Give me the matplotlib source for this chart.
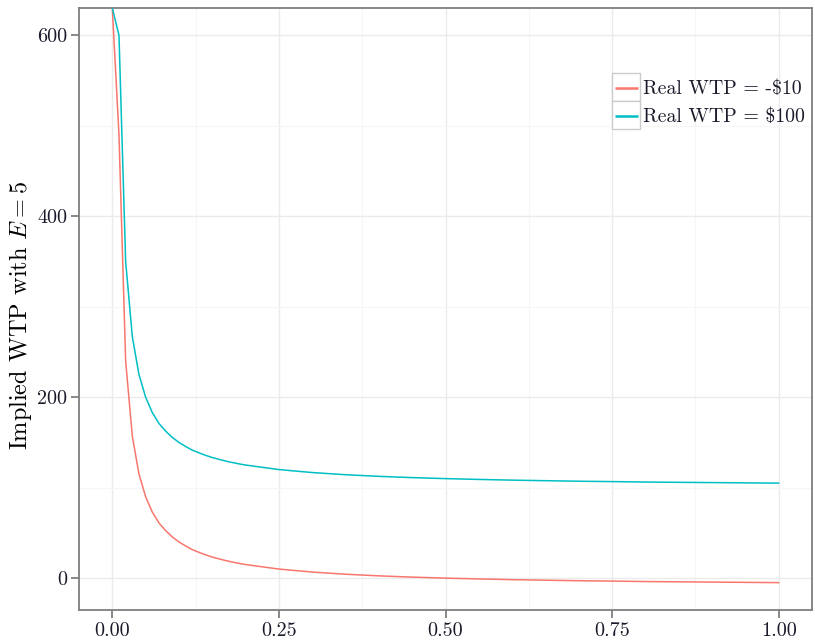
import matplotlib
matplotlib.use('Agg')
from matplotlib import pyplot as plt
from matplotlib.patches import Rectangle
from matplotlib.ticker import FixedLocator

plt.rcParams.update({
    'font.family': 'cmr10',
    'mathtext.fontset': 'cm',
    'axes.formatter.use_mathtext': True,
    'font.size': 14.5,
})

# share of x (probability)
p = [0.00, 0.01, 0.02, 0.03, 0.04, 0.05, 0.06, 0.07, 0.08, 0.09, 0.10,
     0.11, 0.12, 0.13, 0.14, 0.15, 0.16, 0.17, 0.18, 0.19, 0.20,
     0.25, 0.30, 0.35, 0.40, 0.45, 0.50, 0.55, 0.60, 0.65, 0.70,
     0.75, 0.80, 0.85, 0.90, 0.95, 1.00]

# implied WTP, real WTP = -$10 (first point runs off the top of the panel)
wtp_neg10 = [630.25, 490, 240, 157, 115, 90, 73, 61, 52.5, 45.5, 40,
             35.5, 31.5, 28.5, 25.7, 23.3, 21.3, 19.4, 17.8, 16.3, 15,
             10, 6.7, 4.3, 2.5, 1.1, 0, -0.9, -1.7, -2.3, -2.9,
             -3.3, -3.8, -4.1, -4.4, -4.7, -5]

# implied WTP, real WTP = $100
wtp_100 = [630.25, 600, 350, 267, 225, 200, 183, 171, 162.5, 155.5, 150,
           145.5, 141.5, 138.5, 135.7, 133.3, 131.3, 129.4, 127.8, 126.3, 125,
           120, 116.7, 114.3, 112.5, 111.1, 110, 109.1, 108.3, 107.7, 107.1,
           106.7, 106.2, 105.9, 105.6, 105.3, 105]

labels = ['Real WTP = -\\$10', 'Real WTP = \\$100']
colors = ['#F8766D', '#00BFC4']

fig = plt.figure(figsize=(8.15, 6.44), dpi=100)
ax = fig.add_axes([79 / 815, 1 - 610 / 644, 733 / 815, 602 / 644])

ax.plot(p, wtp_neg10, color=colors[0], lw=1.1, zorder=3)
ax.plot(p, wtp_100, color=colors[1], lw=1.1, zorder=3)

ax.set_xlim(-0.05, 1.05)
ax.set_ylim(-35.25, 630.25)
ax.set_xticks([0, 0.25, 0.5, 0.75, 1.0])
ax.set_xticklabels(['0.00', '0.25', '0.50', '0.75', '1.00'])
ax.set_yticks([0, 200, 400, 600])
ax.set_yticklabels(['0', '200', '400', '600'])
ax.xaxis.set_minor_locator(FixedLocator([0.125, 0.375, 0.625, 0.875]))
ax.yaxis.set_minor_locator(FixedLocator([100, 300, 500]))

ax.grid(True, which='major', color='#EBEBEB', lw=1.0, zorder=0)
ax.grid(True, which='minor', color='#F6F6F6', lw=0.8, zorder=0)
ax.set_axisbelow(True)
for s in ax.spines.values():
    s.set_color('#7F7F7F')
    s.set_linewidth(1.3)
ax.tick_params(which='major', length=5.5, width=1.3, color='#7F7F7F',
               labelcolor='#1a1a2a', pad=3)
ax.tick_params(which='minor', length=0)

ax.set_ylabel('Implied WTP with $E = 5$', fontsize=17.5)
ax.yaxis.set_label_coords(-0.062, 0.49)

# ggplot-style legend: grey key boxes, short line, label
key_y = [0.8455, 0.799]
line_y = [0.8679, 0.8214]
text_y = [0.857, 0.8106]
for i in range(2):
    ax.add_patch(Rectangle((0.7272, key_y[i]), 0.0382, 0.0465,
                           transform=ax.transAxes, facecolor='white',
                           edgecolor='#CCCCCC', lw=1.0, zorder=4))
    ax.plot([0.7313, 0.7626], [line_y[i], line_y[i]], color=colors[i], lw=1.8,
            transform=ax.transAxes, zorder=5, solid_capstyle='butt')
    ax.text(0.7694, text_y[i], labels[i], transform=ax.transAxes,
            fontsize=14.3, va='baseline', ha='left', color='#1a1a2a', zorder=5)

fig.savefig('out.png', dpi=100)
